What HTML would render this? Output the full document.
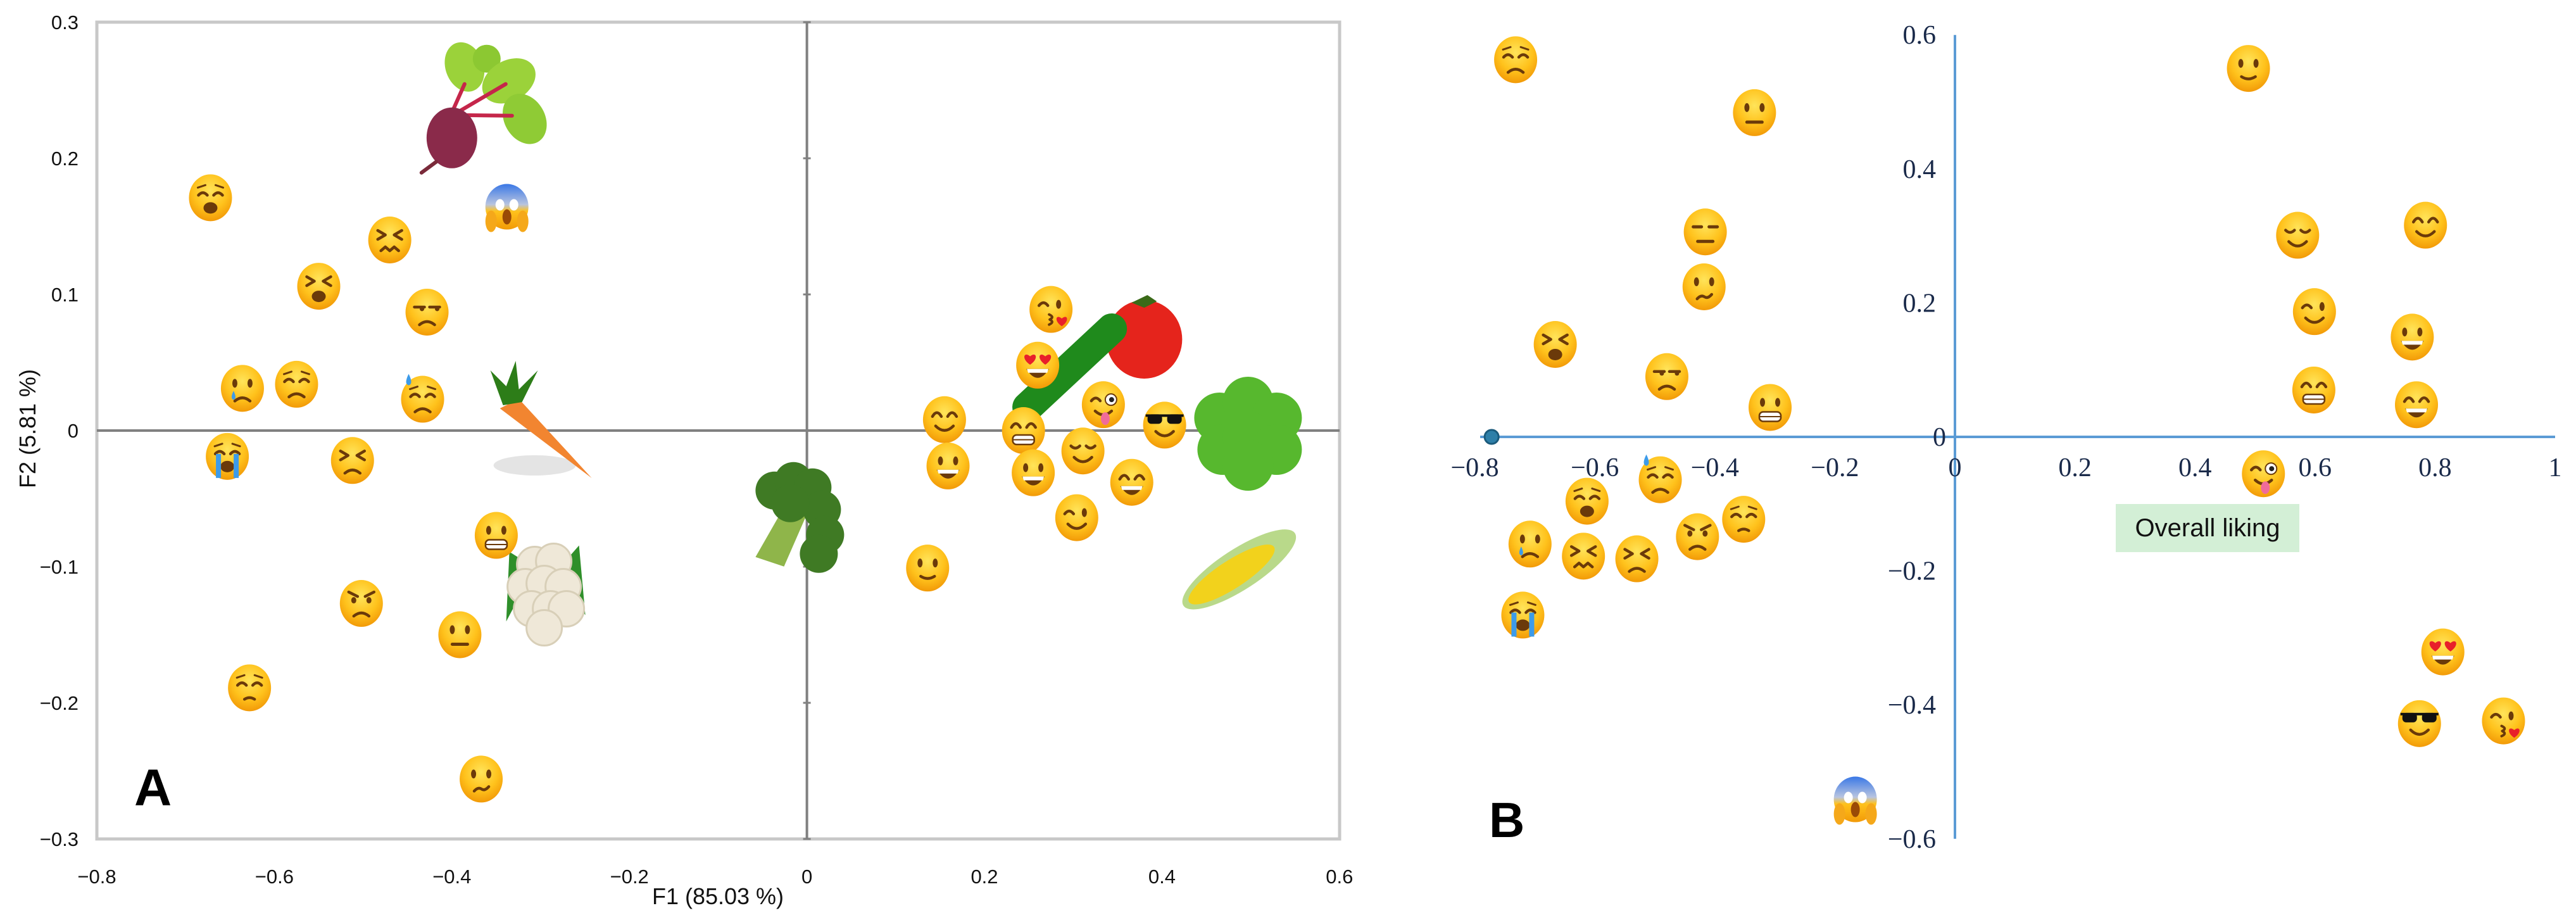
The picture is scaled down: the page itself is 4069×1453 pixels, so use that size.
<!DOCTYPE html>
<html><head><meta charset="utf-8">
<style>
html,body{margin:0;padding:0;background:#fff;}
svg{display:block;}
</style></head>
<body>
<svg id="fig" xmlns="http://www.w3.org/2000/svg" width="4069" height="1453" viewBox="0 0 4069 1453">
<defs>
<radialGradient id="fg" cx="50%" cy="35%" r="65%">
<stop offset="0" stop-color="#ffe45a"/><stop offset="0.6" stop-color="#ffc21c"/><stop offset="1" stop-color="#f29a08"/>
</radialGradient>
<linearGradient id="sg" x1="0" y1="0" x2="0" y2="1">
<stop offset="0" stop-color="#3a78e6"/><stop offset="0.45" stop-color="#b8c4e0"/><stop offset="0.6" stop-color="#ffc21c"/><stop offset="1" stop-color="#f29a08"/>
</linearGradient>
</defs>
<rect x="0" y="0" width="4069" height="1453" fill="#fff"/>
<g id="panelA">
<rect x="153" y="35" width="1963" height="1290" fill="none" stroke="#c8c8c8" stroke-width="5"/>
<g id="aAxes"></g>
<text x="1134" y="1428" font-family="Liberation Sans, sans-serif" font-size="36" text-anchor="middle" fill="#111">F1 (85.03 %)</text>
<text x="0" y="0" transform="translate(56,677) rotate(-90)" font-family="Liberation Sans, sans-serif" font-size="36" text-anchor="middle" fill="#111">F2 (5.81 %)</text>
<text x="212" y="1272" font-family="Liberation Sans, sans-serif" font-weight="bold" font-size="82" fill="#000">A</text>
<g id="aVeg"></g>
<g id="aFaces"></g>
</g>
<g id="panelB">
<g id="bAxes"></g>
<rect x="3342" y="796" width="290" height="76" fill="#d3efd6"/>
<text x="3487" y="847" font-family="Liberation Sans, sans-serif" font-size="40" text-anchor="middle" fill="#111">Overall liking</text>
<text x="2352" y="1322" font-family="Liberation Sans, sans-serif" font-weight="bold" font-size="78" fill="#000">B</text>
<g id="bFaces"></g>
</g>
</svg>
<script>
// ---- Panel A data (F1, F2) ----
const aEmoji = ["weary","scream","confounded","tired","unamused","cry","disappointed","sweat","sob","persevere","grimace","angry","neutral","pensive","confused","kiss","hearteyes","tonguewink","blush","grin","sunglasses","grinning","relieved","smiley","smile","wink","slight"];
const aX = [-0.672,-0.338,-0.470,-0.550,-0.428,-0.636,-0.575,-0.433,-0.653,-0.512,-0.350,-0.502,-0.391,-0.628,-0.367,0.275,0.260,0.334,0.155,0.244,0.403,0.159,0.311,0.255,0.366,0.304,0.136];
const aY = [0.171,0.163,0.140,0.106,0.087,0.031,0.034,0.023,-0.019,-0.022,-0.077,-0.127,-0.150,-0.189,-0.256,0.089,0.048,0.019,0.008,0.000,0.004,-0.026,-0.015,-0.031,-0.038,-0.064,-0.101];
const aVegNames = ["beet","carrot","cauliflower","broccoli","tomato","cucumber","lettuce","corn"];
const aVegX = [-0.40,-0.296,-0.296,-0.008,0.38,0.296,0.497,0.487];
const aVegY = [0.215,0.0,-0.117,-0.065,0.067,0.046,0.0,-0.102];
const aXTicks = [-0.8,-0.6,-0.4,-0.2,0,0.2,0.4,0.6];
const aXTickLabels = ["\u22120.8","\u22120.6","\u22120.4","\u22120.2","0","0.2","0.4","0.6"];
const aYTicks = [0.3,0.2,0.1,0,-0.1,-0.2,-0.3];
const aYTickLabels = ["0.3","0.2","0.1","0","\u22120.1","\u22120.2","\u22120.3"];
// ---- Panel B data ----
const bEmoji = ["disappointed","neutral","expressionless","confused","tired","unamused","grimace","slight","relieved","blush","wink","grinning","grin","smile","tonguewink","sweat","weary","pensive","cry","confounded","persevere","angry","sob","hearteyes","sunglasses","kiss","scream"];
const bX = [-0.732,-0.334,-0.416,-0.418,-0.666,-0.480,-0.308,0.489,0.571,0.784,0.599,0.762,0.598,0.769,0.514,-0.491,-0.613,-0.352,-0.708,-0.619,-0.530,-0.429,-0.720,0.813,0.774,0.914,-0.166];
const bY = [0.563,0.484,0.306,0.224,0.138,0.090,0.044,0.550,0.301,0.316,0.187,0.149,0.070,0.048,-0.055,-0.064,-0.096,-0.123,-0.160,-0.178,-0.182,-0.149,-0.266,-0.321,-0.428,-0.424,-0.544];
const bXTicks = [-0.8,-0.6,-0.4,-0.2,0,0.2,0.4,0.6,0.8,1];
const bXTickLabels = ["\u22120.8","\u22120.6","\u22120.4","\u22120.2","0","0.2","0.4","0.6","0.8","1"];
const bYTicks = [0.6,0.4,0.2,0,-0.2,-0.4,-0.6];
const bYTickLabels = ["0.6","0.4","0.2","0","\u22120.2","\u22120.4","\u22120.6"];
const bOrigin = [-0.772, 0.0];

const NS = "http://www.w3.org/2000/svg";
function mk(tag, attrs, parent){const e=document.createElementNS(NS,tag);for(const k in attrs)e.setAttribute(k,attrs[k]);if(parent)parent.appendChild(e);return e;}
const ax = x => 1274.6 + x*1402;
const ay = y => 680 - y*2150;
const bx = x => 3088 + x*948;
const by = y => 690 - y*1058;

// Panel A axes
const aAxes = document.getElementById('aAxes');
let l = mk('line',{x1:153,y1:ay(0),x2:2116,y2:ay(0),stroke:'#808080','stroke-width':4},aAxes);


l = mk('line',{x1:ax(0),y1:35,x2:ax(0),y2:1325,stroke:'#808080','stroke-width':4},aAxes);


aYTicks.forEach((v,i)=>{
  const t = mk('line',{x1:ax(0)-6,y1:ay(v),x2:ax(0)+6,y2:ay(v),stroke:'#808080','stroke-width':3},aAxes);
  
  
  const tx = mk('text',{x:124,y:ay(v)+11,'font-family':'Liberation Sans, sans-serif','font-size':31,'text-anchor':'end',fill:'#111'},aAxes);
  tx.textContent = aYTickLabels[i];
  
  
});
aXTicks.forEach((v,i)=>{
  const tx = mk('text',{x:ax(v),y:1395,'font-family':'Liberation Sans, sans-serif','font-size':31,'text-anchor':'middle',fill:'#111'},aAxes);
  tx.textContent = aXTickLabels[i];
  
  
});

// Panel B axes
const bAxes = document.getElementById('bAxes');
l = mk('line',{x1:2338,y1:by(0),x2:4036,y2:by(0),stroke:'#5b9bd5','stroke-width':4},bAxes);


l = mk('line',{x1:bx(0),y1:by(0.6),x2:bx(0),y2:by(-0.6),stroke:'#5b9bd5','stroke-width':4},bAxes);


const od = mk('circle',{cx:bx(bOrigin[0]),cy:by(bOrigin[1]),r:11,fill:'#2e7fa8',stroke:'#1b5b7c','stroke-width':3},bAxes);


bXTicks.forEach((v,i)=>{
  const tx = mk('text',{x:bx(v),y:by(0)+62,'font-family':'Liberation Serif, serif','font-size':42,'text-anchor':'middle',fill:'#1a2a4a'},bAxes);
  tx.textContent = bXTickLabels[i];
  
  
});
bYTicks.forEach((v,i)=>{
  if(v===0){
    const tz = mk('text',{x:3074,y:by(0)+14,'font-family':'Liberation Serif, serif','font-size':42,'text-anchor':'end',fill:'#1a2a4a'},bAxes);
    tz.textContent = bYTickLabels[i];
    
    
    return;
  }
  const tx = mk('text',{x:3058,y:by(v)+14,'font-family':'Liberation Serif, serif','font-size':42,'text-anchor':'end',fill:'#1a2a4a'},bAxes);
  tx.textContent = bYTickLabels[i];
  
  
});

// Emoji face drawing (unit radius 37)
const FC = '#6b3a0a';
function strokeP(g,d,w){return mk('path',{d:d,stroke:FC,'stroke-width':w||4.5,fill:'none','stroke-linecap':'round','stroke-linejoin':'round'},g);}
function fillP(g,d,c){return mk('path',{d:d,fill:c||FC},g);}
function heart(g,x,y,s){fillP(g,`M${x},${y+6*s} C${x-12*s},${y-2*s} ${x-8*s},${y-12*s} ${x},${y-5*s} C${x+8*s},${y-12*s} ${x+12*s},${y-2*s} ${x},${y+6*s}Z`,'#e8202a');}
const eyes = {
  dot:g=>{mk('ellipse',{cx:-12,cy:-8,rx:4,ry:7,fill:FC},g);mk('ellipse',{cx:12,cy:-8,rx:4,ry:7,fill:FC},g);},
  arcUp:g=>{strokeP(g,'M-19,-5 Q-12,-17 -5,-5');strokeP(g,'M5,-5 Q12,-17 19,-5');},
  closed:g=>{strokeP(g,'M-19,-8 Q-12,-1 -5,-8');strokeP(g,'M5,-8 Q12,-1 19,-8');},
  sadclosed:g=>{strokeP(g,'M-19,-4 Q-12,-12 -5,-4');strokeP(g,'M5,-4 Q12,-12 19,-4');strokeP(g,'M-20,-16 L-8,-20',3);strokeP(g,'M20,-16 L8,-20',3);},
  x:g=>{strokeP(g,'M-19,-15 L-7,-8 L-19,-1');strokeP(g,'M19,-15 L7,-8 L19,-1');},
  line:g=>{strokeP(g,'M-19,-8 L-6,-8',5);strokeP(g,'M6,-8 L19,-8',5);},
  side:g=>{strokeP(g,'M-20,-8 L-4,-8');strokeP(g,'M4,-8 L20,-8');mk('circle',{cx:-8,cy:-5,r:3.5,fill:FC},g);mk('circle',{cx:16,cy:-5,r:3.5,fill:FC},g);},
  wink:g=>{strokeP(g,'M-19,-6 Q-12,-15 -5,-6');mk('ellipse',{cx:12,cy:-8,rx:4,ry:7,fill:FC},g);},
  winkbig:g=>{strokeP(g,'M-19,-6 Q-12,-15 -5,-6');mk('circle',{cx:12,cy:-8,r:9,fill:'#fff',stroke:FC,'stroke-width':2},g);mk('circle',{cx:13,cy:-8,r:4,fill:'#222'},g);},
  heart:g=>{heart(g,-12,-8,1.2);heart(g,12,-8,1.2);},
  glasses:g=>{mk('rect',{x:-27,y:-17,width:23,height:15,rx:6,fill:'#111'},g);mk('rect',{x:4,y:-17,width:23,height:15,rx:6,fill:'#111'},g);mk('rect',{x:-30,y:-17,width:60,height:4,fill:'#111'},g);},
  angry:g=>{mk('ellipse',{cx:-12,cy:-5,rx:4,ry:5,fill:FC},g);mk('ellipse',{cx:12,cy:-5,rx:4,ry:5,fill:FC},g);strokeP(g,'M-20,-18 L-6,-11');strokeP(g,'M20,-18 L6,-11');}
};
const mouths = {
  smile:g=>strokeP(g,'M-14,10 Q0,24 14,10'),
  slight:g=>strokeP(g,'M-11,13 Q0,20 11,13'),
  frown:g=>strokeP(g,'M-12,20 Q0,10 12,20'),
  line:g=>strokeP(g,'M-12,15 L12,15',5),
  openSad:g=>mk('ellipse',{cx:0,cy:16,rx:11,ry:9,fill:FC},g),
  bigopen:g=>{fillP(g,'M-18,6 Q0,34 18,6 Z');fillP(g,'M-17,6 L17,6 L15,12 L-15,12 Z','#fff');},
  grimace:g=>{mk('rect',{x:-17,y:7,width:34,height:15,rx:6,fill:'#fff',stroke:FC,'stroke-width':2.5},g);strokeP(g,'M-17,14.5 L17,14.5',2);},
  tongue:g=>{strokeP(g,'M-13,10 Q0,22 13,10');mk('ellipse',{cx:3,cy:22,rx:7,ry:10,fill:'#f06b9a'},g);},
  kiss:g=>{strokeP(g,'M-3,8 Q6,12 -2,16 Q6,20 -3,24',4);heart({appendChild:c=>g.appendChild(c)},17,20,1.1);},
  wavy:g=>strokeP(g,'M-11,19 Q-5,12 1,16 Q6,19 12,12'),
  zig:g=>strokeP(g,'M-14,17 L-7,11 L0,17 L7,11 L14,17')
};
const spec = {
  weary:['sadclosed','openSad'],confounded:['x','zig'],tired:['x','openSad'],unamused:['side','frown'],
  cry:['dot','frown'],disappointed:['sadclosed','frown'],sweat:['sadclosed','frown'],sob:['sadclosed','openSad'],
  persevere:['x','frown'],grimace:['dot','grimace'],angry:['angry','frown'],neutral:['dot','line'],
  expressionless:['line','line'],pensive:['sadclosed','slight2'],confused:['dot','wavy'],kiss:['wink','kiss'],
  hearteyes:['heart','bigopen'],tonguewink:['winkbig','tongue'],blush:['arcUp','smile'],grin:['arcUp','grimace'],
  sunglasses:['glasses','smile'],grinning:['dot','bigopen'],relieved:['closed','smile'],smiley:['dot','bigopen'],
  smile:['arcUp','bigopen'],wink:['wink','smile'],slight:['dot','slight']
};
mouths.slight2 = g=>strokeP(g,'M-8,18 Q0,13 8,18');
function face(parent, kind, cx, cy){
  const g = mk('g',{transform:`translate(${cx},${cy})`},parent);
  
  
  if(kind==='scream'){
    mk('ellipse',{cx:0,cy:-3,rx:34,ry:36,fill:'url(#sg)'},g);
    mk('ellipse',{cx:-11,cy:-6,rx:7,ry:9,fill:'#fff'},g);
    mk('ellipse',{cx:11,cy:-6,rx:7,ry:9,fill:'#fff'},g);
    mk('ellipse',{cx:0,cy:13,rx:7,ry:12,fill:'#9a4a06'},g);
    mk('ellipse',{cx:-25,cy:20,rx:9,ry:17,fill:'#f5a81a'},g);
    mk('ellipse',{cx:25,cy:20,rx:9,ry:17,fill:'#f5a81a'},g);
    return;
  }
  mk('ellipse',{cx:0,cy:0,rx:34,ry:37,fill:'url(#fg)'},g);
  const s = spec[kind];
  eyes[s[0]](g); mouths[s[1]](g);
  if(kind==='cry') mk('path',{d:'M-14,4 Q-20,16 -14,18 Q-8,16 -14,4Z',fill:'#3d9be9'},g);
  if(kind==='sweat') mk('path',{d:'M-22,-40 Q-30,-24 -22,-22 Q-14,-24 -22,-40Z',fill:'#3d9be9'},g);
  if(kind==='sob'){mk('rect',{x:-18,y:-4,width:8,height:38,fill:'#3d9be9'},g);mk('rect',{x:10,y:-4,width:8,height:38,fill:'#3d9be9'},g);}
}
const aF = document.getElementById('aFaces');
aEmoji.forEach((k,i)=>face(aF,k,ax(aX[i]),ay(aY[i])));
const bF = document.getElementById('bFaces');
bEmoji.forEach((k,i)=>face(bF,k,bx(bX[i]),by(bY[i])));

// Vegetables
const veg = document.getElementById('aVeg');
const drawVeg = {
  beet:(g)=>{
    [[-30,-40],[-95,-110],[0,-95],[40,-30]].forEach(()=>{});
    mk('ellipse',{cx:20,cy:-112,rx:30,ry:40,fill:'#9bd23a',transform:'rotate(-20 20 -112)'},g);
    mk('ellipse',{cx:55,cy:-125,rx:22,ry:22,fill:'#8cc832'},g);
    mk('ellipse',{cx:90,cy:-90,rx:45,ry:32,fill:'#9bd23a',transform:'rotate(-30 90 -90)'},g);
    mk('ellipse',{cx:115,cy:-30,rx:32,ry:42,fill:'#8fcb35',transform:'rotate(-30 115 -30)'},g);
    strokeP(g,'M0,-40 L20,-85 M5,-38 L85,-85 M8,-36 L95,-35',6).setAttribute('stroke','#c5264a');
    mk('ellipse',{cx:0,cy:0,rx:40,ry:48,fill:'#8a2a4a'},g);
    strokeP(g,'M-25,38 L-48,55',6).setAttribute('stroke','#7a2a3a');
  },
  carrot:(g)=>{
    mk('ellipse',{cx:-15,cy:55,rx:65,ry:16,fill:'#e4e4e4'},g);
    mk('path',{d:'M-70,-35 L-40,-50 L75,75 Z',fill:'#f28530'},g);
    mk('path',{d:'M-65,-40 L-85,-95 L-60,-70 L-45,-110 L-40,-65 L-10,-95 L-35,-45 Z',fill:'#2d7d18'},g);
  },
  cauliflower:(g)=>{
    mk('path',{d:'M-55,-60 L-15,-35 L-60,50 Z',fill:'#2f8f2a'},g);
    mk('path',{d:'M55,-70 L20,-30 L65,40 Z',fill:'#2f8f2a'},g);
    [[-15,-40],[15,-45],[-30,-5],[0,-10],[30,-5],[-20,30],[10,30],[35,30],[0,60]].forEach(p=>mk('circle',{cx:p[0],cy:p[1],r:28,fill:'#efe8d8',stroke:'#d8cfb8','stroke-width':3},g));
  },
  broccoli:(g)=>{
    mk('path',{d:'M-70,60 L-30,-10 L10,-5 L-25,75 Z',fill:'#8fb54a'},g);
    [[-40,-45],[-10,-60],[20,-50],[35,-15],[40,25],[30,55],[-15,-25]].forEach(p=>mk('circle',{cx:p[0],cy:p[1],r:30,fill:'#3f7a24'},g));
  },
  tomato:(g)=>{mk('ellipse',{cx:0,cy:0,rx:60,ry:62,fill:'#e5241c'},g);mk('path',{d:'M-20,-58 L0,-50 L20,-60 L5,-70 Z',fill:'#3a6a18'},g);},
  cucumber:(g)=>{mk('rect',{x:-115,y:-24,width:230,height:48,rx:24,fill:'#1f8a1c',transform:'rotate(-43)'},g);},
  lettuce:(g)=>{[[-45,-20],[0,-45],[45,-20],[-40,30],[0,10],[45,30],[0,55]].forEach(p=>mk('circle',{cx:p[0],cy:p[1],r:40,fill:'#57b82e'},g));},
  corn:(g)=>{mk('ellipse',{cx:0,cy:0,rx:105,ry:32,fill:'#b9d98a',transform:'rotate(-33)'},g);mk('ellipse',{cx:-12,cy:8,rx:80,ry:22,fill:'#f2d21c',transform:'rotate(-33 -12 8)'},g);}
};
aVegNames.forEach((n,i)=>{
  const g = mk('g',{transform:`translate(${ax(aVegX[i])},${ay(aVegY[i])})`},veg);
  
  
  drawVeg[n](g);
});
</script>
</body></html>
